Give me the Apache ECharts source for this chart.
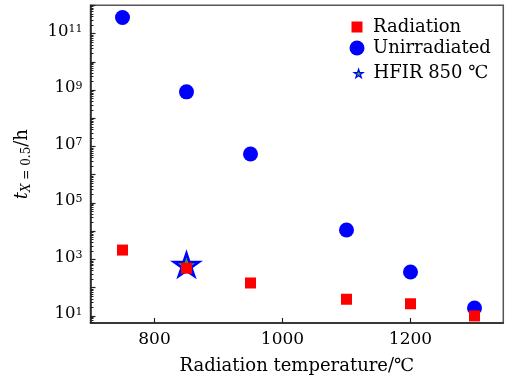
<!DOCTYPE html>
<html>
<head>
<meta charset="utf-8">
<script src="https://cdn.jsdelivr.net/npm/echarts@6/dist/echarts.min.js"></script>
<style>html,body{margin:0;padding:0;background:#fff}#c{width:506px;height:380px}</style>
</head>
<body>
<div id="c"></div>
<script>
// Data (values in hours)
const radTemps = [750, 850, 950, 1100, 1200, 1300];
const radiation = [2150, 490, 147, 39, 27, 10];
const unirrTemps = [750, 850, 950, 1100, 1200, 1300];
const unirradiated = [3.7e11, 8.6e8, 5.4e6, 1.1e4, 360, 19];
const hfirTemps = [850];
const hfir = [650];
const xTickLabels = [800, 1000, 1200];
const yLabelExponents = [1, 3, 5, 7, 9, 11];

const FONT = 'DejaVu Serif';
const lg = v => Math.log10(v);
const pairs = (xs, ys) => xs.map((x, i) => [x, lg(ys[i])]);

const yMin = 0.75, yMax = 12;
const majorY = [];
for (let e = 1; e <= 12; e++) majorY.push(e);
const minorY = [];
for (let e = 0; e < 12; e++) for (let k = 2; k <= 9; k++) {
  const v = e + Math.log10(k);
  if (v >= yMin && v <= yMax) minorY.push(v);
}

const starPath = 'path://M0 -100 L22.45 -30.9 L95.1 -30.9 L36.3 11.8 L58.8 80.9 L0 38.2 L-58.8 80.9 L-36.3 11.8 L-95.1 -30.9 L-22.45 -30.9 Z';
const squarePath = 'path://M0 0 L10 0 L10 10 L0 10 Z';

const chart = echarts.init(document.getElementById('c'), null, {renderer: 'canvas'});
const legendText = p => ({fontFamily: FONT, fontSize: 18, color: '#000', padding: [0, 0, 0, p]});
chart.setOption({
  animation: false,
  backgroundColor: '#fff',
  grid: {left: 90.5, right: 2.7, top: 5.3, bottom: 57, show: true, borderColor: '#555', borderWidth: 1.5, backgroundColor: 'transparent'},
  legend: [
    {data: [{name: 'Radiation', icon: squarePath}], left: 351.5, top: 18, itemWidth: 11, itemHeight: 11, padding: 0, textStyle: legendText(5.5)},
    {data: ['Unirradiated'], left: 349.5, top: 39, itemWidth: 15, itemHeight: 15, padding: 0, textStyle: legendText(3.5)},
    {data: [{name: 'HFIR 850 ℃', itemStyle: {borderWidth: 1.2}}], left: 353.5, top: 64.5, itemWidth: 9, itemHeight: 9, padding: 0, textStyle: legendText(5.5)}
  ],
  xAxis: {
    type: 'value', min: 700, max: 1345,
    name: 'Radiation temperature/℃', nameLocation: 'middle', nameGap: 34,
    nameTextStyle: {fontFamily: FONT, fontSize: 18, color: '#000'},
    axisLine: {lineStyle: {color: '#222', width: 1.5}},
    axisTick: {inside: true, length: 5, customValues: xTickLabels, lineStyle: {color: '#222', width: 1.2}},
    axisLabel: {customValues: xTickLabels, margin: 8, fontFamily: FONT, fontSize: 17, color: '#000', formatter: v => String(v)},
    splitLine: {show: false}
  },
  yAxis: [
    {
      type: 'value', min: yMin, max: yMax,
      name: '{ti|t}{si|X}{s| = 0.5}{n|/h}', nameLocation: 'middle', nameGap: 58,
      nameTextStyle: {
        fontFamily: FONT, fontSize: 16, color: '#000',
        rich: {
          ti: {fontFamily: FONT, fontSize: 18, fontStyle: 'italic', lineHeight: 20},
          si: {fontFamily: FONT, fontSize: 12, fontStyle: 'italic', lineHeight: 12, verticalAlign: 'bottom'},
          s: {fontFamily: FONT, fontSize: 12, lineHeight: 12, verticalAlign: 'bottom'},
          n: {fontFamily: FONT, fontSize: 18, lineHeight: 20}
        }
      },
      axisLine: {lineStyle: {color: '#222', width: 1.5}},
      axisTick: {inside: true, length: 5, customValues: majorY, lineStyle: {color: '#222', width: 1.2}},
      axisLabel: {
        customValues: yLabelExponents, margin: 8,
        formatter: v => '{b|10}{p|' + Math.round(v) + '}',
        rich: {
          b: {fontFamily: FONT, fontSize: 16.5, color: '#000', lineHeight: 19, padding: [0, 0, 4, 0]},
          p: {fontFamily: FONT, fontSize: 11, color: '#000', lineHeight: 11, verticalAlign: 'top'}
        }
      },
      splitLine: {show: false}
    },
    {
      type: 'value', min: yMin, max: yMax, position: 'left',
      axisLine: {show: false},
      axisTick: {show: true, inside: true, length: 3, customValues: minorY, lineStyle: {color: '#222', width: 1}},
      axisLabel: {show: false},
      splitLine: {show: false}
    }
  ],
  series: [
    {
      name: 'Unirradiated', type: 'scatter', symbol: 'circle', symbolSize: 15, z: 2,
      itemStyle: {color: '#0000ff', opacity: 1},
      data: pairs(unirrTemps, unirradiated)
    },
    {
      name: 'HFIR 850 ℃', type: 'scatter', symbol: starPath, symbolSize: [25, 24], symbolKeepAspect: true, z: 3,
      itemStyle: {color: '#22a83a', borderColor: '#0000ff', borderWidth: 2.5, opacity: 1},
      data: pairs(hfirTemps, hfir)
    },
    {
      name: 'Radiation', type: 'scatter', symbol: 'rect', symbolSize: 11, z: 4,
      itemStyle: {color: '#ff0000', opacity: 1},
      data: pairs(radTemps, radiation)
    }
  ]
});
</script>
</body>
</html>
